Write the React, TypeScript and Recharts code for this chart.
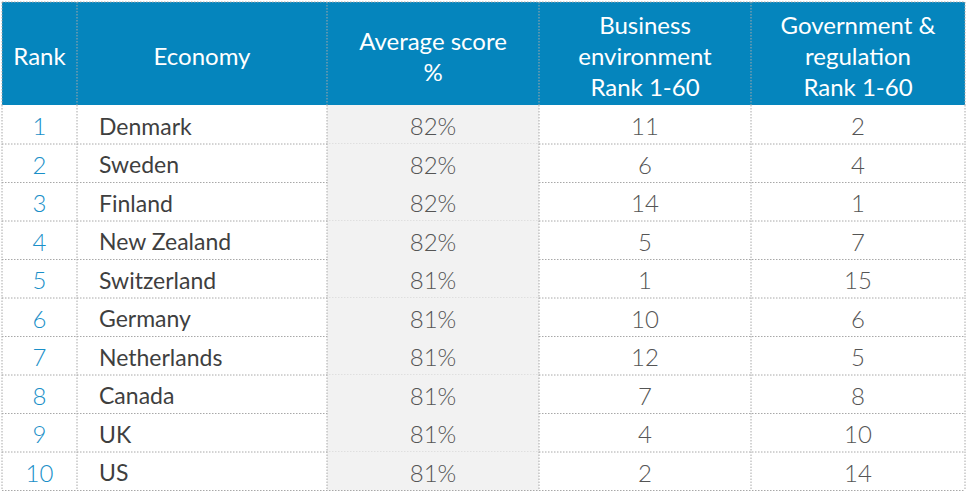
import { Bar, BarChart, Customized, XAxis, YAxis } from "recharts";

const ranks = [1, 2, 3, 4, 5, 6, 7, 8, 9, 10];
const economies = [
  "Denmark",
  "Sweden",
  "Finland",
  "New Zealand",
  "Switzerland",
  "Germany",
  "Netherlands",
  "Canada",
  "UK",
  "US",
];
const averageScores = [82, 82, 82, 82, 81, 81, 81, 81, 81, 81];
const businessRanks = [11, 6, 14, 5, 1, 10, 12, 7, 4, 2];
const governmentRanks = [2, 4, 1, 7, 15, 6, 5, 8, 10, 14];

const headers = [
  ["Rank"],
  ["Economy"],
  ["Average score", "%"],
  ["Business", "environment", "Rank 1-60"],
  ["Government &", "regulation", "Rank 1-60"],
];

const WIDTH = 967;
const HEIGHT = 495;
const HEADER_TOP = 2;
const HEADER_BOTTOM = 105;
const COL_EDGES = [2, 77, 327, 539, 751, 965];
const BLUE = "#0585bd";
const RANK_BLUE = "#1a8fc8";
const TEXT = "#3f3f3f";
const NUM = "#555555";
const GRID = "#a8a8a8";
const FONT = "Lato, 'Open Sans', sans-serif";

const data = economies.map((economy, i) => ({
  rank: ranks[i],
  economy,
  score: averageScores[i],
  business: businessRanks[i],
  government: governmentRanks[i],
}));

const center = (col: number) => (COL_EDGES[col] + COL_EDGES[col + 1]) / 2;

function DottedLine(props: { x1: number; y1: number; x2: number; y2: number }) {
  return (
    <line {...props} stroke={GRID} strokeWidth={1} strokeDasharray="1.5 1.5" />
  );
}

function Header() {
  const lineGap = 31;
  return (
    <g>
      <rect
        x={COL_EDGES[0]}
        y={HEADER_TOP}
        width={COL_EDGES[5] - COL_EDGES[0]}
        height={HEADER_BOTTOM - HEADER_TOP}
        fill={BLUE}
      />
      <DottedLine x1={COL_EDGES[0]} y1={HEADER_TOP} x2={COL_EDGES[5]} y2={HEADER_TOP} />
      {COL_EDGES.map((x) => (
        <DottedLine key={x} x1={x} y1={HEADER_TOP} x2={x} y2={HEADER_BOTTOM} />
      ))}
      {headers.map((lines, col) => {
        const mid = (HEADER_TOP + HEADER_BOTTOM) / 2 + 2;
        const start = mid - ((lines.length - 1) * lineGap) / 2;
        return lines.map((line, i) => (
          <text
            key={`${col}-${i}`}
            x={center(col)}
            y={start + i * lineGap}
            textAnchor="middle"
            dominantBaseline="central"
            fill="#ffffff"
            fontFamily={FONT}
            fontSize={24}
          >
            {line}
          </text>
        ));
      })}
    </g>
  );
}

function RowShape(props: any) {
  const { y, height, payload } = props;
  const cy = y + height / 2 + 1;
  const numText = (col: number, value: string | number, color = NUM) => (
    <text
      x={center(col)}
      y={cy}
      textAnchor="middle"
      dominantBaseline="central"
      fill={color}
      fontFamily={FONT}
      fontWeight={300}
      fontSize={24}
    >
      {value}
    </text>
  );
  return (
    <g>
      <rect
        x={COL_EDGES[2]}
        y={y}
        width={COL_EDGES[3] - COL_EDGES[2]}
        height={height}
        fill="#f2f2f2"
      />
      <DottedLine x1={COL_EDGES[0]} y1={y + height} x2={COL_EDGES[5]} y2={y + height} />
      {COL_EDGES.map((x) => (
        <DottedLine key={x} x1={x} y1={y} x2={x} y2={y + height} />
      ))}
      {numText(0, payload.rank, RANK_BLUE)}
      <text
        x={99}
        y={cy}
        dominantBaseline="central"
        fill={TEXT}
        fontFamily={FONT}
        fontSize={23}
      >
        {payload.economy}
      </text>
      {numText(2, `${payload.score}%`)}
      {numText(3, payload.business)}
      {numText(4, payload.government)}
    </g>
  );
}

export default function App() {
  return (
    <div style={{ position: "fixed", left: 0, top: 0, background: "#ffffff" }}>
      <BarChart
        width={WIDTH}
        height={HEIGHT}
        data={data}
        layout="vertical"
        margin={{ top: HEADER_BOTTOM, right: 0, bottom: 5, left: 0 }}
        barCategoryGap={0}
      >
        <XAxis type="number" hide domain={[0, 100]} />
        <YAxis type="category" dataKey="economy" hide />
        <Bar dataKey="score" shape={RowShape} isAnimationActive={false} />
        <Customized component={Header} />
      </BarChart>
    </div>
  );
}
